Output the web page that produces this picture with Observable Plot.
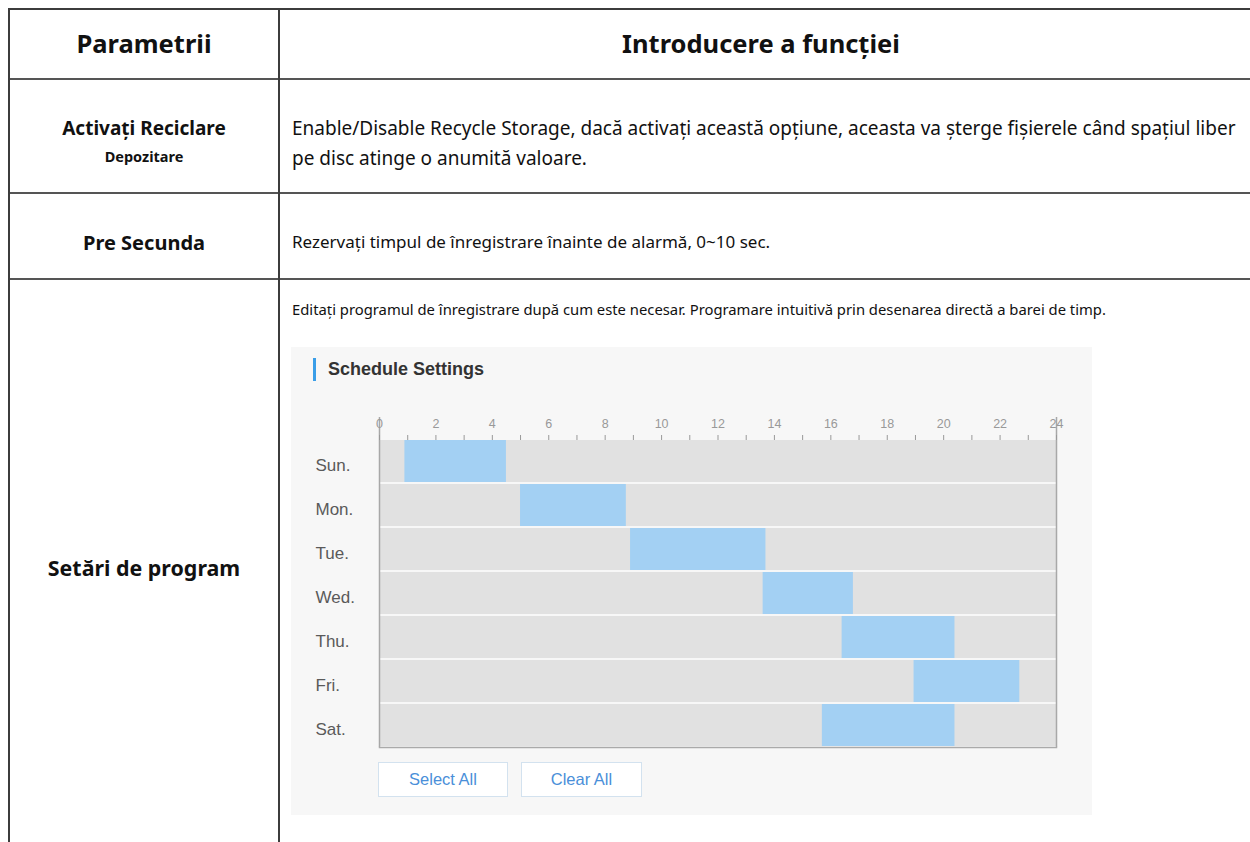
<!DOCTYPE html>
<html>
<head>
<meta charset="utf-8">
<script src="https://cdn.jsdelivr.net/npm/d3@7"></script>
<script src="https://cdn.jsdelivr.net/npm/@observablehq/plot@0.6"></script>
<style>
  html, body { margin: 0; padding: 0; background: #fff; }
  body { width: 1250px; height: 842px; overflow: hidden; position: relative; font-family: "Noto Sans", "Open Sans", sans-serif; color: #111; }
  .ln { position: absolute; background: #3c3c3c; }
  .cell { position: absolute; white-space: nowrap; }
  .lc { left: 9px; width: 270px; text-align: center; font-weight: 700; }
  .rc { left: 292px; }
  #panel { position: absolute; left: 291px; top: 347px; width: 801px; height: 468px; background: #f7f7f7; }
  #accent { position: absolute; left: 22px; top: 11px; width: 3px; height: 23px; background: #3a9ee8; }
  #ptitle { position: absolute; left: 37px; top: 10px; font: 700 18px "Liberation Sans", Arial, sans-serif; line-height: 24px; color: #333; }
  #chart { position: absolute; left: 0; top: 53px; }
  .btn { position: absolute; top: 415px; height: 35px; text-align: center; background: #fff; border: 1px solid #d3e2ef; font: 16.5px "Liberation Sans", Arial, sans-serif; line-height: 33px; color: #4a8fd9; box-sizing: border-box; }
</style>
</head>
<body>
<!-- table lines -->
<div class="ln" style="left:8px;top:8px;width:1250px;height:2px"></div>
<div class="ln" style="left:8px;top:78px;width:1250px;height:2px;background:#555"></div>
<div class="ln" style="left:8px;top:192px;width:1250px;height:2px;background:#555"></div>
<div class="ln" style="left:8px;top:278px;width:1250px;height:2px;background:#555"></div>
<div class="ln" style="left:8px;top:8px;width:2px;height:842px"></div>
<div class="ln" style="left:278px;top:8px;width:2px;height:842px"></div>

<div class="cell lc" style="top:25px;font-size:25.5px;line-height:36px">Parametrii</div>
<div class="cell" style="left:279px;width:964px;text-align:center;top:25px;font-size:25.5px;line-height:36px;font-weight:700">Introducere a funcției</div>

<div class="cell lc" style="top:114px;font-size:19px;line-height:28px">Activați Reciclare</div>
<div class="cell lc" style="top:146px;font-size:14.5px;line-height:20px">Depozitare</div>
<div class="cell rc" style="top:113px;font-size:19px;line-height:30px">Enable/Disable Recycle Storage, dacă activați această opțiune, aceasta va șterge fișierele când spațiul liber<br>pe disc atinge o anumită valoare.</div>

<div class="cell lc" style="top:228px;font-size:20px;line-height:30px">Pre Secunda</div>
<div class="cell rc" style="top:230px;font-size:17px;line-height:24px">Rezervați timpul de înregistrare înainte de alarmă, 0~10 sec.</div>

<div class="cell rc" style="top:299px;font-size:14.8px;line-height:20px">Editați programul de înregistrare după cum este necesar. Programare intuitivă prin desenarea directă a barei de timp.</div>
<div class="cell lc" style="top:552px;font-size:21.4px;line-height:32px">Setări de program</div>

<div id="panel">
  <div id="accent"></div>
  <div id="ptitle">Schedule Settings</div>
  <div id="chart"></div>
  <div class="btn" style="left:87px;width:130px">Select All</div>
  <div class="btn" style="left:230px;width:121px">Clear All</div>
</div>

<script>
// ---- data ----
const days = ["Sun.", "Mon.", "Tue.", "Wed.", "Thu.", "Fri.", "Sat."];
const startHours = [0.9, 5.0, 8.9, 13.6, 16.4, 18.95, 15.7];
const endHours = [4.5, 8.75, 13.7, 16.8, 20.4, 22.7, 20.4];
const hourDomain = [0, 24];
const hourTicks = [0,1,2,3,4,5,6,7,8,9,10,11,12,13,14,15,16,17,18,19,20,21,22,23,24];
const labelHours = [0,2,4,6,8,10,12,14,16,18,20,22,24];

const schedule = days.map((d, i) => ({day: d, start: startHours[i], end: endHours[i]}));
const rows = days.map(d => ({day: d, from: hourDomain[0], to: hourDomain[1]}));

const chart = Plot.plot({
  width: 801,
  height: 349,
  marginLeft: 88,
  marginRight: 36,
  marginTop: 39,
  marginBottom: 2,
  style: {background: "transparent", fontFamily: "'Liberation Sans', Arial, sans-serif", overflow: "visible"},
  x: {domain: hourDomain, axis: null, label: null},
  y: {domain: days, paddingInner: 0.05, paddingOuter: 0, axis: null, label: null},
  marks: [
    Plot.barX(rows, {x1: "from", x2: "to", y: "day", fill: "#e1e1e1"}),
    Plot.barX(schedule, {x1: "start", x2: "end", y: "day", fill: "#a3d0f3"}),
    Plot.ruleX(hourDomain, {stroke: "#a8a8a8", strokeWidth: 1.5, insetTop: -22}),
    Plot.frame({anchor: "bottom", stroke: "#aaa", strokeWidth: 1.5}),
    Plot.axisX(hourTicks, {anchor: "top", label: null, tickSize: 5, tickPadding: 7, tickFormat: d => labelHours.includes(d) ? String(d) : "", color: "#999", fontSize: 12.5}),
    Plot.axisY({anchor: "left", label: null, tickSize: 0, textAnchor: "start", dx: -55, dy: 4, fontSize: 17, color: "#5a5a5a"})
  ]
});
document.getElementById("chart").appendChild(chart);
</script>
</body>
</html>
